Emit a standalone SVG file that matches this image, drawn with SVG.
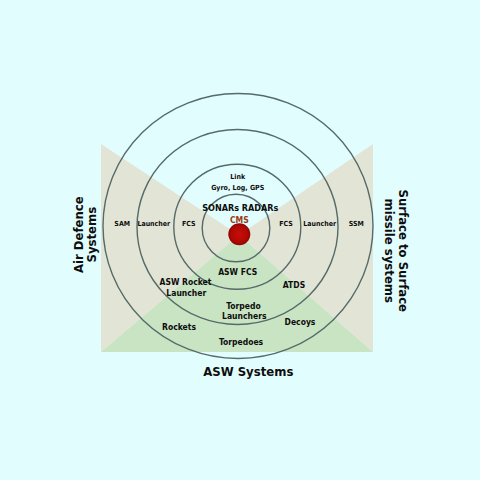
<svg xmlns="http://www.w3.org/2000/svg" width="480" height="480" viewBox="0 0 480 480">
  <defs>
    <radialGradient id="cmsGrad" cx="0.5" cy="0.5" r="0.5">
      <stop offset="0" stop-color="#C60E08"/>
      <stop offset="0.75" stop-color="#B00804"/>
      <stop offset="1" stop-color="#8A0503"/>
    </radialGradient>
  </defs>
  <style>
    text { font-family: 'DejaVu Sans Condensed', 'DejaVu Sans', sans-serif; font-weight: bold; fill: #0D0D0D; text-anchor: middle; }
    .s7 { font-size: 7px; }
    .s85 { font-size: 8.5px; }
    .s9 { font-size: 9px; }
    .big { font-size: 13px; }
    .ring { fill: none; stroke: #566A6A; stroke-width: 1.4; }
    .side { fill: #E2E5D5; }
    .asw { fill: #C9E4C3; }
  </style>
  <rect x="0" y="0" width="480" height="480" fill="#E2FDFD"/>
  <g id="sectors">
    <polygon class="side" points="101,144 239,235 101,352"/>
    <polygon class="side" points="373,144 239,235 373,352"/>
    <polygon class="asw" points="101,352 239,235 373,352"/>
  </g>
  <g id="rings">
    <ellipse class="ring" cx="238" cy="226" rx="135" ry="132.5"/>
    <ellipse class="ring" cx="237.5" cy="227" rx="100.5" ry="97.5"/>
    <ellipse class="ring" cx="237.3" cy="226.8" rx="63.5" ry="62.5"/>
    <circle class="ring" cx="236" cy="228" r="33.8"/>
  </g>
  <g id="cms">
    <circle cx="239.3" cy="234.3" r="11" fill="url(#cmsGrad)"/>
    <text class="s85" x="239.3" y="223.3" style="fill:#9A3A14">CMS</text>
  </g>
  <g id="sensors">
    <text class="s7" x="237.7" y="178.5">Link</text>
    <text class="s7" x="237.7" y="190.2">Gyro, Log, GPS</text>
    <text class="s9" x="240.3" y="211.2">SONARs  RADARs</text>
  </g>
  <g id="air-defence">
    <text class="s7" x="122.2" y="225.5">SAM</text>
    <text class="s7" x="153.8" y="225.5">Launcher</text>
    <text class="s7" x="188.7" y="225.5">FCS</text>
    <text class="big" transform="translate(82.7,234.7) rotate(-90)">Air Defence</text>
    <text class="big" transform="translate(96,234.7) rotate(-90)">Systems</text>
  </g>
  <g id="ssm">
    <text class="s7" x="286" y="226">FCS</text>
    <text class="s7" x="319.7" y="225.5">Launcher</text>
    <text class="s7" x="356.2" y="225.5">SSM</text>
    <text class="big" transform="translate(398.5,250.8) rotate(90)">Surface to Surface</text>
    <text class="big" transform="translate(385,250.8) rotate(90)">missile systems</text>
  </g>
  <g id="asw">
    <text class="s85" x="237.7" y="275">ASW FCS</text>
    <text class="s85" x="185.5" y="285.3">ASW Rocket</text>
    <text class="s85" x="186.3" y="295.7">Launcher</text>
    <text class="s85" x="294" y="288.3">ATDS</text>
    <text class="s85" x="243.5" y="309">Torpedo</text>
    <text class="s85" x="244.3" y="319">Launchers</text>
    <text class="s85" x="179" y="330.3">Rockets</text>
    <text class="s85" x="300" y="325.3">Decoys</text>
    <text class="s85" x="241" y="344.7">Torpedoes</text>
    <text class="big" x="248.3" y="376.3">ASW Systems</text>
  </g>
</svg>
